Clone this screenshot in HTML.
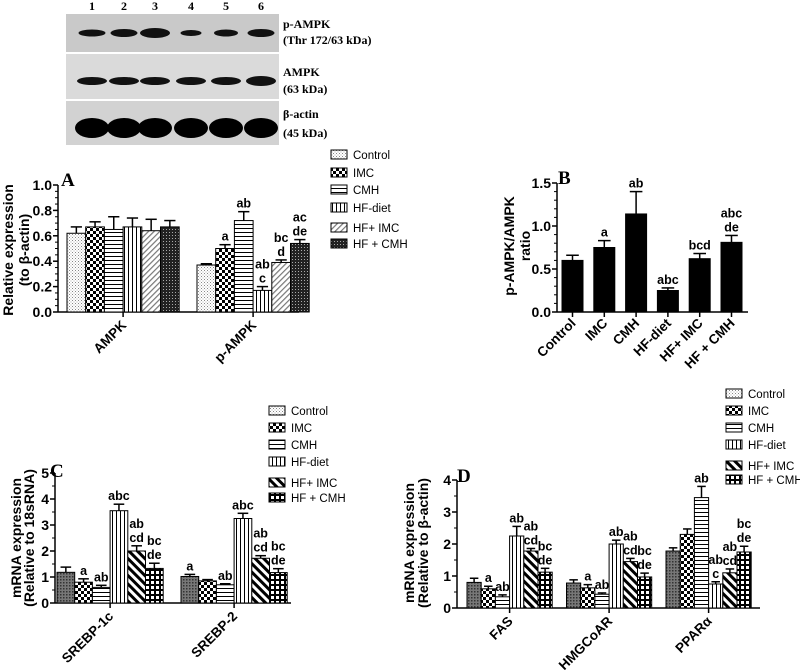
<!DOCTYPE html>
<html><head><meta charset="utf-8"><style>
html,body{margin:0;padding:0;background:#fff;}
svg{display:block;font-family:"Liberation Sans",Arial,sans-serif;}
.tick{font-size:14px;font-weight:bold;}
.ser{font-family:"Liberation Serif",serif;font-weight:bold;}
</style></head><body>
<svg id="fig" width="800" height="670" viewBox="0 0 800 670">
<defs>
<pattern id="pCtrlA" width="3" height="3" patternUnits="userSpaceOnUse"><rect width="3" height="3" fill="#fff"/><rect x="0" y="0" width="1" height="1" fill="#888"/><rect x="1.5" y="1.5" width="1" height="1" fill="#aaa"/></pattern>
<pattern id="pCtrlC" width="3" height="3" patternUnits="userSpaceOnUse"><rect width="3" height="3" fill="#777"/><rect x="0" y="0" width="1.5" height="1.5" fill="#333"/></pattern>
<pattern id="pImc" width="6" height="6" patternUnits="userSpaceOnUse"><rect width="6" height="6" fill="#fff"/><rect width="3" height="3" fill="#000"/><rect x="3" y="3" width="3" height="3" fill="#000"/></pattern>
<pattern id="pCmh" width="4" height="4" patternUnits="userSpaceOnUse"><rect width="4" height="4" fill="#fff"/><rect y="0" width="4" height="1" fill="#000"/></pattern>
<pattern id="pHf" width="4" height="4" patternUnits="userSpaceOnUse"><rect width="4" height="4" fill="#fff"/><rect x="0" width="1" height="4" fill="#000"/></pattern>
<pattern id="pHfImcA" width="4" height="4" patternUnits="userSpaceOnUse" patternTransform="rotate(45)"><rect width="4" height="4" fill="#fff"/><rect width="1.2" height="4" fill="#777"/></pattern>
<pattern id="pHfImcC" width="6" height="6" patternUnits="userSpaceOnUse" patternTransform="rotate(-45)"><rect width="6" height="6" fill="#fff"/><rect width="3" height="6" fill="#000"/></pattern>
<pattern id="pHfCmhA" width="3" height="3" patternUnits="userSpaceOnUse"><rect width="3" height="3" fill="#222"/><rect x="1" y="1" width="1" height="1" fill="#aaa"/></pattern>
<pattern id="pHfCmhC" width="5" height="5" patternUnits="userSpaceOnUse"><rect width="5" height="5" fill="#000"/><rect x="1" y="1" width="3" height="3" fill="#fff"/></pattern>
</defs>
<g id="blot"></g>
<g id="panels"></g>
</svg>
<script>
const NS="http://www.w3.org/2000/svg";
function mk(tag,attrs,parent,text){const e=document.createElementNS(NS,tag);for(const k in attrs)e.setAttribute(k,attrs[k]);if(text!==undefined)e.textContent=text;parent.appendChild(e);return e;}
const svg=document.getElementById('panels');

// ---- data ----
const legendNames=['Control','IMC','CMH','HF-diet','HF+ IMC','HF + CMH'];
const groupsA=['AMPK','p-AMPK'];
const valsA=[[0.62,0.67,0.65,0.67,0.64,0.67],[0.37,0.50,0.72,0.17,0.39,0.54]];
const errA=[[0.05,0.04,0.10,0.07,0.09,0.05],[0.01,0.03,0.07,0.03,0.02,0.03]];
const sigA=[['','','','','',''],['','a','ab','ab\nc','bc\nd','ac\nde']];
const ticksA=['0.0','0.2','0.4','0.6','0.8','1.0'];

const catsB=['Control','IMC','CMH','HF-diet','HF+ IMC','HF + CMH'];
const valsB=[0.60,0.75,1.14,0.25,0.62,0.81];
const errB=[0.06,0.08,0.26,0.03,0.06,0.08];
const sigB=['','a','ab','abc','bcd','abc\nde'];
const ticksB=['0.0','0.5','1.0','1.5'];

const groupsC=['SREBP-1c','SREBP-2'];
const valsC=[[1.18,0.80,0.60,3.55,2.00,1.33],[1.02,0.85,0.70,3.25,1.72,1.17]];
const errC=[[0.20,0.13,0.08,0.25,0.20,0.20],[0.08,0.05,0.04,0.20,0.10,0.15]];
const sigC=[['','a','ab','abc','ab\ncd','bc\nde'],['a','','ab','abc','ab\ncd','bc\nde']];
const ticksC=['0','1','2','3','4','5'];

const groupsD=['FAS','HMGCoAR','PPARα'];
const valsD=[[0.80,0.60,0.35,2.25,1.78,1.12],[0.78,0.63,0.43,2.00,1.45,0.97],[1.78,2.30,3.45,0.75,1.10,1.75]];
const errD=[[0.13,0.08,0.06,0.30,0.08,0.12],[0.10,0.10,0.04,0.12,0.10,0.12],[0.10,0.17,0.35,0.07,0.12,0.18]];
const sigD=[['','a','ab','ab','ab\ncd','bc\nde'],['','a','ab','ab','ab\ncd','bc\nde'],['','','ab','ab\nc','ab\ncd','bc\nde']];
const ticksD=['0','1','2','3','4'];

const patA=['pCtrlA','pImc','pCmh','pHf','pHfImcA','pHfCmhA'];
const patC=['pCtrlC','pImc','pCmh','pHf','pHfImcC','pHfCmhC'];
const patLegC=['pCtrlA','pImc','pCmh','pHf','pHfImcC','pHfCmhC'];

// ---- blot ----
(function(){
 const b=document.getElementById('blot');
 const strips=[[14,38,'#c9c9c9'],[54,45,'#dadada'],[101,44,'#d2d2d2']];
 strips.forEach((s,i)=>{const r=mk('rect',{x:66,y:s[0],width:213,height:s[1],fill:s[2]},b);});
 const lanes=[92,124,155,191,226,261];
 const pW=[18,18,20,14,16,18], pH=[5,6,8,4,5,6];
 lanes.forEach((x,i)=>{
  const t=mk('text',{x:x,y:10,'text-anchor':'middle','font-size':12,class:'ser'},b,String(i+1));
  mk('ellipse',{cx:x,cy:33,rx:pW[i]*0.75,ry:pH[i]/2+1,fill:'#111'},b);
  mk('ellipse',{cx:x,cy:81,rx:15,ry:4+(i==5?1:0),fill:'#111'},b);
  mk('ellipse',{cx:x,cy:128,rx:17,ry:10,fill:'#000'},b);
 });
 const labs=[['p-AMPK',28],['(Thr 172/63 kDa)',44],['AMPK',76],['(63 kDa)',93],['β-actin',118],['(45 kDa)',137]];
 labs.forEach(l=>{const t=mk('text',{x:283,y:l[1],'font-size':12,class:'ser'},b,l[0]);});
})();

function yAxis(g,x,y0,pxPerUnit,ticks,tickVals,minorStep,maxV){
 mk('line',{x1:x,y1:y0,x2:x,y2:y0-maxV*pxPerUnit,stroke:'#000','stroke-width':1.5},g);
 ticks.forEach((t,i)=>{const y=y0-tickVals[i]*pxPerUnit;mk('line',{x1:x-5,y1:y,x2:x,y2:y,stroke:'#000','stroke-width':1.5},g);
  const tx=mk('text',{x:x-6,y:y+5,'text-anchor':'end',class:'tick'},g,t);});
 if(minorStep){for(let v=0;v<=maxV+1e-9;v+=minorStep){const y=y0-v*pxPerUnit;mk('line',{x1:x-3,y1:y,x2:x,y2:y,stroke:'#000','stroke-width':1},g);}}
}
function sigText(g,cx,ytop,s){if(!s)return;const lines=s.split('\n');lines.forEach((l,k)=>{const t=mk('text',{x:cx,y:ytop-4-(lines.length-1-k)*14,'text-anchor':'middle','font-size':12.5,'font-weight':'bold'},g,l);});}
function bar(g,x,w,y0,ppu,v,e,fill,name){
 const r=mk('rect',{x:x,y:y0-v*ppu,width:w,height:v*ppu,fill:fill,stroke:'#000','stroke-width':1},g);
 
 const yt=y0-(v+e)*ppu;
 mk('line',{x1:x+w/2,y1:y0-v*ppu,x2:x+w/2,y2:yt,stroke:'#000','stroke-width':1.5},g);
 mk('line',{x1:x+w/2-w*0.3,y1:yt,x2:x+w/2+w*0.3,y2:yt,stroke:'#000','stroke-width':1.5},g);
 return yt;
}
function xLabel(g,x,y,s){const t=mk('text',{x:x,y:y,'text-anchor':'end','font-size':13.5,'font-weight':'bold',transform:'rotate(-45 '+x+' '+y+')'},g,s);}
function yTitle(g,cx,cy,lines,dy){lines.forEach((l,k)=>{const x=cx+k*dy;const t=mk('text',{x:x,y:cy,'text-anchor':'middle','font-size':14,'font-weight':'bold',transform:'rotate(-90 '+x+' '+cy+')'},g,l);});}
function legend(g,x,ys,pats){legendNames.forEach((n,i)=>{const e=mk('g',{},g);
 mk('rect',{x:x,y:ys[i]-8,width:16,height:9,fill:'url(#'+pats[i]+')',stroke:'#000','stroke-width':1},e);
 mk('text',{x:x+22,y:ys[i]+1,'font-size':11.5},e,n);});}
function letter(g,x,y,s){const t=mk('text',{x:x,y:y,'font-size':19,class:'ser'},g,s);}

function grouped(name,cfg,groups,vals,errs,sigs,ticks,tickVals,pats){
 const g=mk('g',{},svg);
 const ppu=cfg.ppu;
 yAxis(g,cfg.ax,cfg.y0,ppu,ticks,tickVals,cfg.minor,cfg.maxV);
 mk('line',{x1:cfg.ax,y1:cfg.y0,x2:cfg.axEnd,y2:cfg.y0,stroke:'#000','stroke-width':1.5},g);
 groups.forEach((gn,i)=>{
  const gx=cfg.gx0+i*cfg.gstep;
  vals[i].forEach((v,j)=>{const x=gx+j*cfg.bw;const yt=bar(g,x,cfg.bw,cfg.y0,ppu,v,errs[i][j],'url(#'+pats[j]+')','bar-'+gn+'-'+legendNames[j]);sigText(g,x+cfg.bw/2,yt,sigs[i][j]);});
  const tc=gx+3*cfg.bw;
  mk('line',{x1:tc,y1:cfg.y0,x2:tc,y2:cfg.y0+5,stroke:'#000','stroke-width':1.5},g);
  xLabel(g,tc+4,cfg.y0+14,gn);
 });
 return g;
}

// Panel A
const gA=grouped('panel-a',{ax:58,y0:312,ppu:127,axEnd:299,gx0:67,gstep:130,bw:18.7,minor:0.05,maxV:1.0},groupsA,valsA,errA,sigA,ticksA,[0,0.2,0.4,0.6,0.8,1.0],patA);
yTitle(gA,13,250,['Relative expression','(to β-actin)'],16);
legend(gA,331,[158,176,193,211,231,247],patA);
letter(gA,61,186,'A');

// Panel B
(function(){
 const g=mk('g',{},svg);
 const ax=557,y0=312,ppu=86,bw=21,step=31.8,x0=562;
 yAxis(g,ax,y0,ppu,ticksB,[0,0.5,1.0,1.5],0.1,1.5);
 mk('line',{x1:ax,y1:y0,x2:748,y2:y0,stroke:'#000','stroke-width':1.5},g);
 catsB.forEach((c,i)=>{const x=x0+i*step;const yt=bar(g,x,bw,y0,ppu,valsB[i],errB[i],'#000','bar-'+c);sigText(g,x+bw/2,yt,sigB[i]);
  mk('line',{x1:x+bw/2,y1:y0,x2:x+bw/2,y2:y0+5,stroke:'#000','stroke-width':1.5},g);xLabel(g,x+bw/2+4,y0+12,c);});
 yTitle(g,514,246,['p-AMPK/AMPK','ratio'],16);
 letter(g,558,184,'B');
})();

// Panel C
const gC=grouped('panel-c',{ax:55,y0:603,ppu:26,axEnd:291,gx0:57,gstep:124,bw:17.7,minor:0.5,maxV:5},groupsC,valsC,errC,sigC,ticksC,[0,1,2,3,4,5],patC);
yTitle(gC,21,538,['mRNA expression','(Relative to 18sRNA)'],13);
legend(gC,269,[414,431,448,465,486,501],patLegC);
letter(gC,50,477,'C');

// Panel D
const gD=grouped('panel-d',{ax:457,y0:608,ppu:32,axEnd:760,gx0:467,gstep:99.5,bw:14.2,minor:0.5,maxV:4},groupsD,valsD,errD,sigD,ticksD,[0,1,2,3,4],patC);
yTitle(gD,414,543,['mRNA expression','(Relative to β-actin)'],14);
legend(gD,726,[397,414,431,448,469,483],patLegC);
letter(gD,457,482,'D');
</script>
</body></html>
